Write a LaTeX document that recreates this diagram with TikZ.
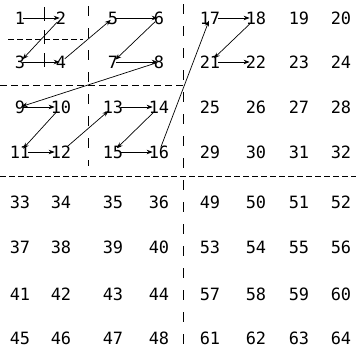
\documentclass[tikz,border=0pt]{standalone}
\usepackage{fontspec}
\setmonofont{DejaVu Sans Mono}
\usetikzlibrary{arrows.meta}
\tikzset{
  cell/.style={inner sep=0pt, font=\ttfamily\fontsize{17}{17}\selectfont},
  zlink/.style={-{Stealth[length=6bp,width=4.5bp]}, line width=0.7bp,
    shorten >=-4bp, shorten <=-2bp},
  split/.style={line width=0.8bp, dash pattern=on 10bp off 12bp},
  fine/.style={line width=0.8bp, dash pattern=on 6bp off 3bp}
}
\begin{document}
\begin{tikzpicture}[x=1bp,y=-1bp]
\useasboundingbox (0,0) rectangle (356,351);
\def\colx{{20,61,113,159,210,256,299,341}}
\def\rowy{{18,62,107,152,202,247,294,338}}

% first quadrant in Z order
\foreach \n/\c/\r in {1/0/0,2/1/0,3/0/1,4/1/1,5/2/0,6/3/0,7/2/1,8/3/1,
  9/0/2,10/1/2,11/0/3,12/1/3,13/2/2,14/3/2,15/2/3,16/3/3}{
  \pgfmathsetmacro\x{\colx[\c]}
  \pgfmathsetmacro\y{\rowy[\r]}
  \node[cell] (n\n) at (\x,\y) {\n};
}

% other quadrants row by row
\foreach \s/\dc/\dr in {17/4/0,33/0/4,49/4/4}
  \foreach \i in {0,...,3}
    \foreach \j in {0,...,3}{
      \pgfmathtruncatemacro\n{\s+4*\i+\j}
      \pgfmathtruncatemacro\c{\dc+\j}
      \pgfmathtruncatemacro\r{\dr+\i}
      \pgfmathsetmacro\x{\colx[\c]}
      \pgfmathsetmacro\y{\rowy[\r]}
      \node[cell] (n\n) at (\x,\y) {\n};
    }

% splitting lines
\draw[split] (183,4)--(183,348);
\draw[fine] (0,176)--(356,176);
\draw[split] (88,6)--(88,166);
\draw[fine, dash pattern=on 7bp off 4bp] (0,85)--(183,85);
\draw[fine] (8,39)--(83,39);
\draw[line width=0.8bp, dash pattern=on 14bp off 9bp] (44,7)--(44,70);

% the curve
\foreach \a/\b in {1/2,2/3,3/4,4/5,5/6,6/7,7/8,8/9,9/10,10/11,11/12,12/13,
  13/14,14/15,15/16,16/17,17/18,18/21,21/22}
  \draw[zlink] (n\a) -- (n\b);
\end{tikzpicture}
\end{document}
